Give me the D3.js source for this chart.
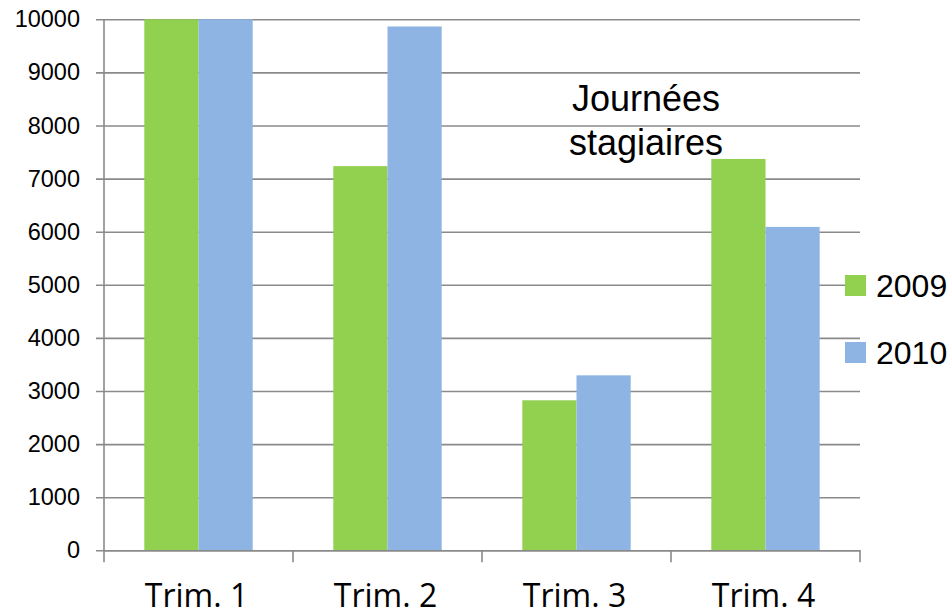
<!DOCTYPE html>
<html>
<head>
<meta charset="utf-8">
<script src="https://cdn.jsdelivr.net/npm/d3@7"></script>
<style>
  body { margin: 0; background: #fff; }
  svg { display: block; }
</style>
</head>
<body>
<div id="chart"></div>
<script>
// data
var categories = ["Trim. 1", "Trim. 2", "Trim. 3", "Trim. 4"];
var series = ["2009", "2010"];
var values2009 = [10000, 7235, 2825, 7370];
var values2010 = [10000, 9865, 3295, 6090];
var yTicks = [0, 1000, 2000, 3000, 4000, 5000, 6000, 7000, 8000, 9000, 10000];
var titleLines = ["Journées", "stagiaires"];

var colors = { "2009": "#92d050", "2010": "#8eb4e3" };
var width = 950, height = 613;
var plotLeft = 104, plotRight = 860, plotTop = 19.3, plotBottom = 550.3;

var rows = categories.map(function(c, i) {
  return { cat: c, "2009": values2009[i], "2010": values2010[i] };
});

var svg = d3.select("#chart").append("svg")
  .attr("width", width)
  .attr("height", height);

var x0 = d3.scaleBand().domain(categories).range([plotLeft, plotRight]);
var x1 = d3.scaleBand().domain(series).range([0, x0.bandwidth()])
  .paddingInner(0).paddingOuter(0.744);
var y = d3.scaleLinear().domain([0, 10000]).range([plotBottom, plotTop]);

// gridlines + y labels
var yAxis = d3.axisLeft(y).tickValues(yTicks)
  .tickSize(0).tickPadding(16)
  .tickFormat(d3.format("d"));

var gy = svg.append("g")
  .attr("transform", "translate(" + (plotLeft - 8) + ",0)")
  .call(yAxis);
gy.select(".domain").remove();
gy.selectAll(".tick line")
  .attr("x1", 0)
  .attr("x2", plotRight - plotLeft + 8)
  .attr("stroke", "#8a8a8a")
  .attr("stroke-width", 1.6);
gy.selectAll(".tick text")
  .style("font-family", "'Liberation Sans', Arial, sans-serif")
  .style("font-size", "23.5px")
  .attr("fill", "#000");

// bars
var groups = svg.append("g").selectAll("g")
  .data(rows)
  .join("g")
  .attr("transform", function(d) { return "translate(" + x0(d.cat) + ",0)"; });

groups.selectAll("rect")
  .data(function(d) { return series.map(function(s) { return { key: s, value: d[s] }; }); })
  .join("rect")
  .attr("x", function(d) { return x1(d.key); })
  .attr("y", function(d) { return y(Math.min(d.value, 10000)); })
  .attr("width", x1.bandwidth())
  .attr("height", function(d) { return plotBottom - y(Math.min(d.value, 10000)); })
  .attr("fill", function(d) { return colors[d.key]; });

// y axis line
svg.append("line")
  .attr("x1", plotLeft).attr("x2", plotLeft)
  .attr("y1", plotTop).attr("y2", plotBottom + 12)
  .attr("stroke", "#8a8a8a").attr("stroke-width", 1.6);

// category axis
var xAxis = d3.axisBottom(x0).tickSize(0).tickPadding(34);
var gx = svg.append("g")
  .attr("transform", "translate(0," + plotBottom + ")")
  .call(xAxis);
gx.select(".domain")
  .attr("stroke", "#8a8a8a").attr("stroke-width", 1.6);
gx.selectAll(".tick text")
  .style("font-family", "'Open Sans', sans-serif")
  .style("font-size", "32px")
  .attr("dx", "-2")
  .attr("fill", "#000");

// tick marks on category boundaries
gx.selectAll(".sep")
  .data(categories)
  .join("line")
  .attr("class", "sep")
  .attr("x1", function(d) { return x0(d) + x0.bandwidth(); })
  .attr("x2", function(d) { return x0(d) + x0.bandwidth(); })
  .attr("y1", 0).attr("y2", 12)
  .attr("stroke", "#8a8a8a").attr("stroke-width", 1.6);

// title
svg.append("g").selectAll("text")
  .data(titleLines)
  .join("text")
  .attr("x", 646)
  .attr("y", function(d, i) { return 111 + i * 44; })
  .attr("text-anchor", "middle")
  .style("font-family", "'Liberation Sans', Arial, sans-serif")
  .style("font-size", "36px")
  .attr("fill", "#000")
  .text(function(d) { return d; });

// legend
var legend = svg.append("g").selectAll("g")
  .data(series)
  .join("g")
  .attr("transform", function(d, i) { return "translate(845," + (275 + i * 67) + ")"; });

legend.append("rect")
  .attr("width", 21).attr("height", 21)
  .attr("fill", function(d) { return colors[d]; });

legend.append("text")
  .attr("x", 31).attr("y", 21.5)
  .style("font-family", "'Liberation Sans', Arial, sans-serif")
  .style("font-size", "32px")
  .attr("fill", "#000")
  .text(function(d) { return d; });
</script>
</body>
</html>
